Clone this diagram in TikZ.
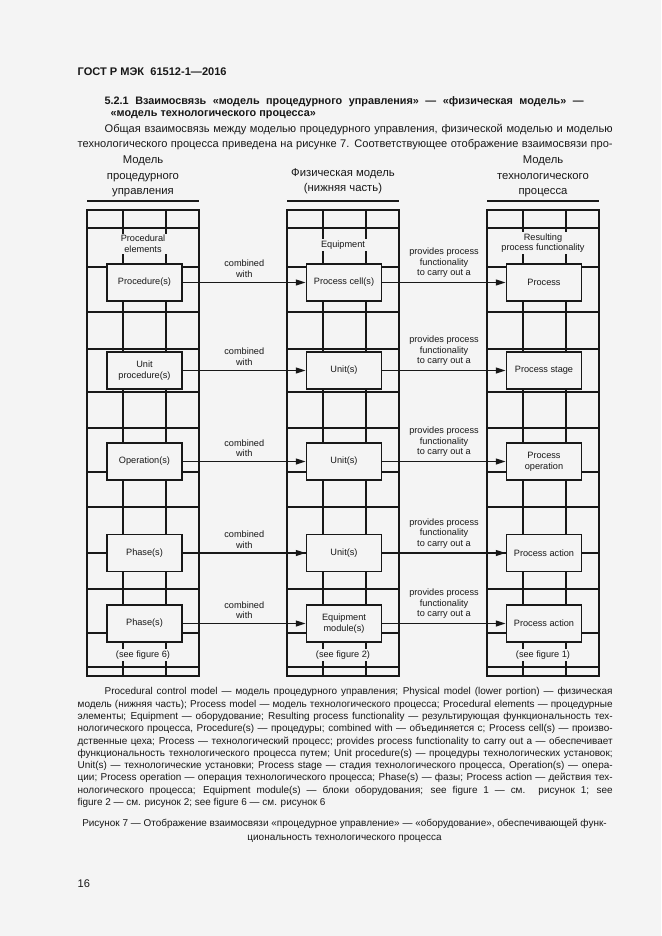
\documentclass[tikz,border=0pt]{standalone}
\usepackage{fontspec}
\setmainfont{Liberation Sans}
\usetikzlibrary{arrows.meta}

\definecolor{paper}{RGB}{244,244,244}
\definecolor{ink}{RGB}{24,24,24}

\newlength\pxl
\setlength\pxl{0.3177mm}
% one justified line, width given in px of the page
\newcommand\fullline[2][535]{\makebox[#1\pxl][s]{#2}}

\begin{document}
\begin{tikzpicture}[x=0.3177mm, y=-0.3177mm, line width=1.2pt, color=ink]

  \tikzset{
    hdr/.style   = {font=\fontsize{9.8}{10.8}\selectfont\bfseries, inner sep=0pt},
    txt/.style   = {font=\fontsize{10}{13.5}\selectfont, inner sep=0pt},
    note/.style  = {font=\fontsize{9}{11.1}\selectfont, inner sep=0pt},
    colhd/.style = {font=\fontsize{10.2}{14}\selectfont, align=center, inner sep=0pt},
    small/.style = {font=\fontsize{8.3}{9.6}\selectfont, align=center},
    tag/.style   = {small, fill=paper, inner sep=1.5pt},
    cell/.style  = {small, draw, fill=paper, line width=1.2pt,
                    minimum width=23.8mm, minimum height=11.75mm, inner sep=1pt},
    lbl/.style   = {small, anchor=south, inner sep=0pt, yshift=3.5pt},
    frame/.style = {line width=2.6pt},
    grid/.style  = {line width=1.2pt},
    arr/.style   = {line width=1.7pt, -{Triangle[length=3.2mm, width=1.8mm]}},
  }

  \fill[paper] (0,0) rectangle (661,936);
  \useasboundingbox (0,0) rectangle (661,936);

  % ---- page head and text -------------------------------------------------
  \node[hdr, anchor=base west, font=\fontsize{10}{11}\selectfont\bfseries] (gost) at (77,76)
    {ГОСТ Р МЭК\ \ 61512-1—2016};

  \node[hdr, anchor=north west, align=left] (sect) at (104,96)
    {\fullline[479]{5.2.1 Взаимосвязь «модель процедурного управления» — «физическая модель» —}\\
     \hspace*{6\pxl}«модель технологического процесса»};

  \node[txt, anchor=north west, align=left] (para) at (77,124)
    {\hspace*{27\pxl}\fullline[508]{Общая взаимосвязь между моделью процедурного управления, физической моделью и моделью}\\
     \fullline{технологического процесса приведена на рисунке 7. Соответствующее отображение взаимосвязи про-}};

  % ---- the three columns --------------------------------------------------
  \foreach \cx in {87,287,487} {
    \foreach \gy in {228,267,312,349,392,428,472,507,553,589,633,667}
      \draw[grid] (\cx,\gy) -- (\cx+112,\gy);
    \draw[grid] (\cx+36,210) -- (\cx+36,676);
    \draw[grid] (\cx+79,210) -- (\cx+79,676);
    \draw[frame] (\cx,210) rectangle (\cx+112,676);
    \draw[grid] (\cx,201) -- (\cx+112,201);
  }

  \node[colhd, anchor=south] (hpc) at (143,197.5) {Модель\\процедурного\\управления};
  \node[colhd, anchor=south] (hpm) at (343,194.5) {Физическая модель\\(нижняя часть)};
  \node[colhd, anchor=south] (hpr) at (543,197.5) {Модель\\технологического\\процесса};

  \node[tag] (pe)  at (143,244) {Procedural\\elements};
  \node[tag] (eqp) at (343,245) {Equipment};
  \node[tag] (rpf) at (543,243) {Resulting\\process functionality};

  \node[tag] (sf6) at (143,655) {(see figure 6)};
  \node[tag] (sf2) at (343,655) {(see figure 2)};
  \node[tag] (sf1) at (543,655) {(see figure 1)};

  % ---- rows: procedural element -> equipment -> process step --------------
  \foreach \r/\y/\ta/\tb/\tc in {%
    1/282.5/{Procedure(s)}/{Process cell(s)}/{Process},
    2/370.5/{Unit\\procedure(s)}/{Unit(s)}/{Process stage},
    3/461.5/{Operation(s)}/{Unit(s)}/{Process\\operation},
    4/553/{Phase(s)}/{Unit(s)}/{Process action},
    5/623.5/{Phase(s)}/{Equipment\\module(s)}/{Process action}%
  }{
    \node[cell] (pc\r) at (144.5,\y) {\ta};
    \node[cell] (eq\r) at (344,\y) {\tb};
    \node[cell] (pr\r) at (544,\y) {\tc};
    \draw[arr] (pc\r) -- node[lbl] {combined\\with} (eq\r);
    \draw[arr] (eq\r) -- node[lbl] {provides process\\functionality\\to carry out a} (pr\r);
  }

  % ---- legend and caption -------------------------------------------------
  \node[note, anchor=north west, align=left] (legend) at (77,687)
    {\hspace*{27\pxl}\fullline[508]{Procedural control model — модель процедурного управления; Physical model (lower portion) — физическая}\\
     \fullline{модель (нижняя часть); Process model — модель технологического процесса; Procedural elements — процедурные}\\
     \fullline{элементы; Equipment — оборудование; Resulting process functionality — результирующая функциональность тех-}\\
     \fullline{нологического процесса, Procedure(s) — процедуры; combined with — объединяется с; Process cell(s) — произво-}\\
     \fullline{дственные цеха; Process — технологический процесс; provides process functionality to carry out a — обеспечивает}\\
     \fullline{функциональность технологического процесса путем; Unit procedure(s) — процедуры технологических установок;}\\
     \fullline{Unit(s) — технологические установки; Process stage — стадия технологического процесса, Operation(s) — опера-}\\
     \fullline{ции; Process operation — операция технологического процесса; Phase(s) — фазы; Process action — действия тех-}\\
     \fullline{нологического процесса; Equipment module(s) — блоки оборудования; see figure 1 — см. рисунок 1; see}\\
     figure 2 — см. рисунок 2; see figure 6 — см. рисунок 6};

  \node[note, anchor=north, align=center, font=\fontsize{9}{13.5}\selectfont] (cap) at (344.5,818)
    {Рисунок 7 — Отображение взаимосвязи «процедурное управление» — «оборудование», обеспечивающей функ-\\
     циональность технологического процесса};

  \node[txt, anchor=base west] (pgno) at (77,887) {16};

\end{tikzpicture}
\end{document}
